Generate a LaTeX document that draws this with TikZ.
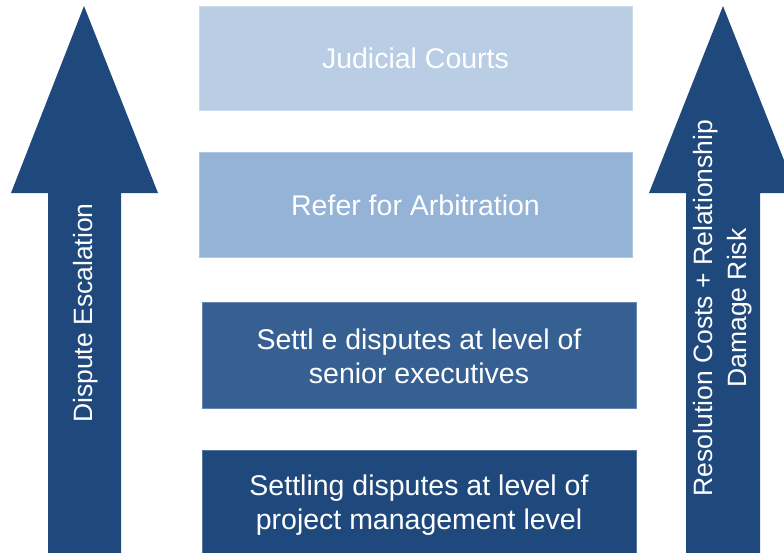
\documentclass[tikz,border=0pt]{standalone}
\usepackage{fontspec}
\setmainfont{Liberation Sans}
\definecolor{cA}{HTML}{B9CDE5}
\definecolor{cB}{HTML}{95B3D7}
\definecolor{cC}{HTML}{376092}
\definecolor{cD}{HTML}{1F497D}
\begin{document}
\begin{tikzpicture}[x=1pt,y=-1pt,
  level/.style={draw=#1!75!white, fill=#1, line width=0.8pt},
  boxtext/.style={text=white, align=center, font=\fontsize{28.5}{34}\selectfont, inner sep=0pt},
  arrowtext/.style={text=white, align=center, rotate=90, font=\fontsize{26.5}{34}\selectfont, inner sep=0pt},
  bigarrow/.style={fill=cD, draw=none}]
\useasboundingbox (0,0) rectangle (784,552);
\clip (0,0) rectangle (784,552);
% arrows
\fill[bigarrow] (84,6) -- (158,193) -- (121,193) -- (121,560) -- (48,560) -- (48,193) -- (11,193) -- cycle;
\fill[bigarrow] (723,6) -- (797,193) -- (760,193) -- (760,560) -- (686,560) -- (686,193) -- (649,193) -- cycle;
% boxes
\draw[level=cA] (199,6) rectangle (632,110);
\draw[level=cB] (199,152) rectangle (632,257);
\draw[level=cC] (202,302) rectangle (636,408);
\draw[level=cD] (202,450) rectangle (636,562);
% texts
\node[boxtext] (t1) at (415.5,58) {Judicial Courts};
\node[boxtext] (t2) at (415.5,205) {Refer for Arbitration};
\node[boxtext] (t3) at (419,356) {Settl e disputes at level of\\senior executives};
\node[boxtext] (t4) at (419,505) {Settling disputes at level of\\project management level};
\node[arrowtext] (a1) at (86,313) {Dispute Escalation};
\node[arrowtext] (a2) at (723,308) {Resolution Costs + Relationship\\Damage Risk};
\end{tikzpicture}
\end{document}
